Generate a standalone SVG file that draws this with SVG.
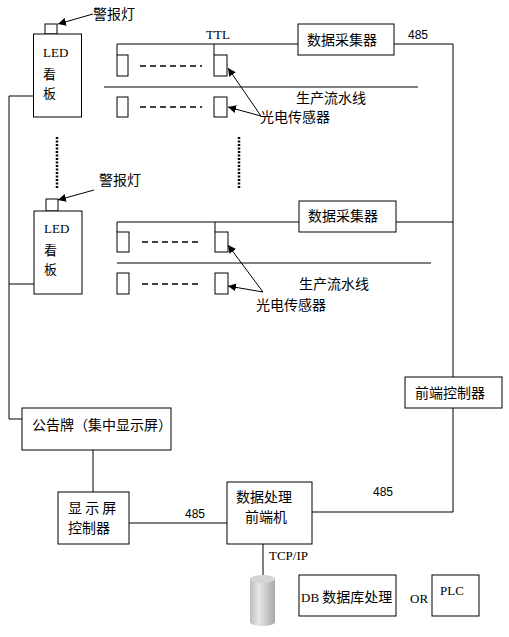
<svg xmlns="http://www.w3.org/2000/svg" width="509" height="637" viewBox="0 0 509 637">
<style>
.b{fill:#fff;stroke:#000;stroke-width:1}
.l{fill:none;stroke:#000;stroke-width:1}
.d{fill:none;stroke:#000;stroke-width:1.5;stroke-dasharray:6,4}
.dt{fill:none;stroke:#000;stroke-width:2.5;stroke-dasharray:2,1.5}
.c{font-family:"Noto Sans CJK SC","Liberation Sans",sans-serif;font-size:14px;fill:#000}
.v{font-family:"Noto Sans CJK SC","Liberation Sans",sans-serif;font-size:13px;fill:#000}
.s{font-family:"Liberation Serif",serif;font-size:13px;fill:#000}
.n{font-family:"Liberation Sans",sans-serif;font-size:12px;fill:#000}
</style>
<defs>
<marker id="a" viewBox="0 0 10 10" refX="10" refY="5" markerWidth="8" markerHeight="8" orient="auto" markerUnits="userSpaceOnUse"><path d="M0,0L10,5L0,10z" fill="#000"/></marker>
<linearGradient id="g" x1="0" x2="1" y1="0" y2="0"><stop offset="0" stop-color="#bdbdbd"/><stop offset="0.35" stop-color="#e6e6e6"/><stop offset="1" stop-color="#a8a8a8"/></linearGradient>
</defs>
<rect width="509" height="637" fill="#fff"/>
<g id="connectors">
<polyline class="l" points="33,96 9,96 9,419 22,419"/>
<line class="l" x1="9" y1="284" x2="34" y2="284"/>
<polyline class="l" points="117,55 117,44 298,44"/>
<line class="l" x1="214" y1="44" x2="214" y2="55"/>
<polyline class="l" points="394,44 453,44 453,377"/>
<line class="l" x1="104" y1="87" x2="418" y2="87"/>
<line class="d" x1="140" y1="66" x2="202" y2="66"/>
<line class="d" x1="140" y1="107" x2="202" y2="107"/>
<line class="dt" x1="57" y1="137" x2="57" y2="188"/>
<line class="dt" x1="239" y1="137" x2="239" y2="188"/>
<polyline class="l" points="117,232 117,222 299,222"/>
<line class="l" x1="215" y1="222" x2="215" y2="232"/>
<line class="l" x1="396" y1="222" x2="453" y2="222"/>
<line class="l" x1="117" y1="263" x2="431" y2="263"/>
<line class="d" x1="142" y1="242" x2="202" y2="242"/>
<line class="d" x1="142" y1="284" x2="202" y2="284"/>
<line class="l" x1="93" y1="450" x2="93" y2="492"/>
<line class="l" x1="129" y1="523" x2="227" y2="523"/>
<polyline class="l" points="453,408 453,512 312,512"/>
<line class="l" x1="263" y1="544" x2="263" y2="575"/>
<line class="l" x1="93" y1="14" x2="58" y2="24" marker-end="url(#a)"/>
<line class="l" x1="94" y1="190" x2="58" y2="200" marker-end="url(#a)"/>
<line class="l" x1="261" y1="116" x2="228" y2="68" marker-end="url(#a)"/>
<line class="l" x1="261" y1="116" x2="228" y2="107" marker-end="url(#a)"/>
<line class="l" x1="263" y1="292" x2="228" y2="245" marker-end="url(#a)"/>
<line class="l" x1="263" y1="292" x2="228" y2="286" marker-end="url(#a)"/>
</g>
<g id="led1">
<rect class="b" x="45" y="24" width="12" height="10"/>
<rect class="b" x="33.5" y="34" width="48" height="83"/>
<text class="s" x="43" y="57">LED</text>
<text class="v" x="43" y="79">看</text>
<text class="v" x="43" y="98">板</text>
<text class="c" x="93" y="19">警报灯</text>
</g>
<g id="line1">
<rect class="b" x="117" y="55" width="11" height="21"/>
<rect class="b" x="214" y="55" width="13" height="21"/>
<rect class="b" x="117" y="97" width="11" height="20"/>
<rect class="b" x="214" y="97" width="13" height="20"/>
<text class="s" x="206" y="39">TTL</text>
<text class="n" x="408" y="39">485</text>
<text class="c" x="296" y="103">生产流水线</text>
<text class="c" x="260" y="122">光电传感器</text>
</g>
<g id="collector1"><rect class="b" x="298" y="24" width="96" height="31"/><text class="c" x="307" y="45">数据采集器</text></g>
<g id="led2">
<rect class="b" x="46" y="199" width="12" height="12"/>
<rect class="b" x="34" y="211" width="48" height="83"/>
<text class="s" x="44" y="233">LED</text>
<text class="v" x="44" y="255">看</text>
<text class="v" x="44" y="274">板</text>
<text class="c" x="99" y="185">警报灯</text>
</g>
<g id="line2">
<rect class="b" x="117" y="232" width="12" height="20"/>
<rect class="b" x="215" y="232" width="13" height="20"/>
<rect class="b" x="117" y="273" width="12" height="21"/>
<rect class="b" x="215" y="273" width="13" height="21"/>
<text class="c" x="299" y="289">生产流水线</text>
<text class="c" x="256" y="310">光电传感器</text>
</g>
<g id="collector2"><rect class="b" x="299" y="201" width="97" height="31"/><text class="c" x="308" y="221">数据采集器</text></g>
<g id="frontctl"><rect class="b" x="405" y="377" width="97" height="31"/><text class="c" x="415" y="398">前端控制器</text></g>
<g id="board"><rect class="b" x="22" y="408" width="149" height="42"/><text class="c" x="32" y="430">公告牌（集中显示屏）</text></g>
<g id="screenctl"><rect class="b" x="58" y="492" width="71" height="52"/><text class="c" x="68" y="513" xml:space="preserve">显 示 屏</text><text class="c" x="68" y="533">控制器</text></g>
<text class="n" x="185" y="518">485</text>
<g id="frontpc"><rect class="b" x="227" y="482" width="85" height="62"/><text class="c" x="236" y="502">数据处理</text><text class="c" x="245" y="522">前端机</text></g>
<text class="n" x="373" y="496">485</text>
<text class="s" x="269" y="560">TCP/IP</text>
<g id="db">
<path d="M250,579 L250,622 A12.5,4 0 0 0 275,622 L275,579 Z" fill="url(#g)"/>
<ellipse cx="262.5" cy="579" rx="12.5" ry="4" fill="#d4d4d4"/>
</g>
<g id="dbproc"><rect class="b" x="299" y="575" width="97" height="41"/><text class="s" x="301" y="602">DB <tspan class="c">数据库处理</tspan></text></g>
<text class="s" x="410" y="603">OR</text>
<g id="plc"><rect class="b" x="432" y="575" width="47" height="41"/><text class="s" x="440" y="595">PLC</text></g>
</svg>
